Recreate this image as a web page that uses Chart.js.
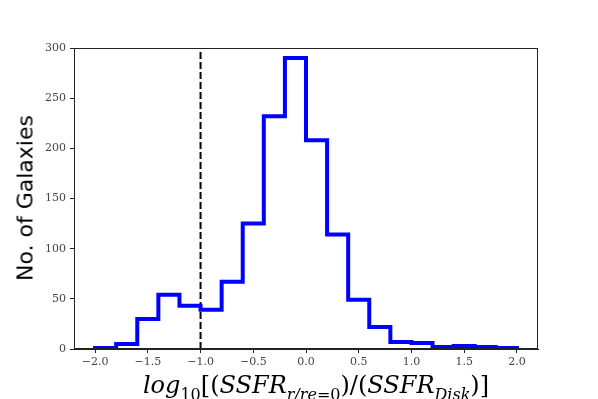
<!DOCTYPE html>
<html>
<head>
<meta charset="utf-8">
<script src="https://cdn.jsdelivr.net/npm/chart.js@4"></script>
<style>
  html, body { margin: 0; padding: 0; background: #fff; overflow: hidden; }
  #wrap { position: relative; width: 598px; height: 399px; }
  #ylabel {
    position: absolute; left: 25px; top: 198px;
    transform: translate(-50%, -50%) rotate(-90deg);
    font-family: "DejaVu Sans", sans-serif; font-size: 22px; white-space: nowrap; color: #000;
  }
  #xlabel {
    position: absolute; left: 316px; top: 368px;
    transform: translateX(-50%);
    font-family: "DejaVu Serif", serif; font-size: 24px; white-space: nowrap; color: #000;
    line-height: 34px;
  }
  #xlabel sub { font-size: 16px; vertical-align: -7px; line-height: 0; }
</style>
</head>
<body>
<div id="wrap">
  <canvas id="histChart" width="598" height="399"></canvas>
  <div id="ylabel">No. of Galaxies</div>
  <div id="xlabel"><i>log</i><sub>10</sub>[(<i>SSFR</i><sub><i>r/re</i>=0</sub>)/(<i>SSFR</i><sub><i>Disk</i></sub>)]</div>
</div>
<script>
// bordes de los bins y cuentas del histograma
const binEdges = [-2.0, -1.8, -1.6, -1.4, -1.2, -1.0, -0.8, -0.6, -0.4, -0.2, 0.0,
                  0.2, 0.4, 0.6, 0.8, 1.0, 1.2, 1.4, 1.6, 1.8, 2.0];
const counts = [1, 5, 30, 54, 43, 39, 67, 125, 232, 290, 208, 114, 49, 22, 7, 6, 2, 3, 2, 1];
const xTickValues = [-2.0, -1.5, -1.0, -0.5, 0.0, 0.5, 1.0, 1.5, 2.0];
const yTickValues = [0, 50, 100, 150, 200, 250, 300];
const cutValue = -1.0;

function fmtMinus(v, d) {
    const s = v.toFixed(d);
    return s.replace('-', '\u2212');
}

// contorno tipo "step": cada bin va de binEdges[i] a binEdges[i+1]
const stepPoints = [{ x: binEdges[0], y: 0 }];
counts.forEach((c, i) => {
    stepPoints.push({ x: binEdges[i], y: c });
    stepPoints.push({ x: binEdges[i + 1], y: c });
});
stepPoints.push({ x: binEdges[binEdges.length - 1], y: 0 });

const framePlugin = {
    id: 'frame',
    afterDraw(chart) {
        const a = chart.chartArea;
        const ctx = chart.ctx;
        ctx.save();
        ctx.strokeStyle = '#222';
        ctx.lineWidth = 1;
        ctx.strokeRect(a.left + 0.5, a.top + 0.5, a.right - a.left - 1, a.bottom - a.top - 1);
        ctx.restore();
    }
};

const ctx = document.getElementById('histChart').getContext('2d');
new Chart(ctx, {
    type: 'line',
    data: {
        datasets: [{
            data: stepPoints,
            borderColor: '#0000ff',
            borderWidth: 4,
            borderJoinStyle: 'miter',
            pointRadius: 0,
            tension: 0,
            fill: false
        }, {
            data: [{ x: cutValue, y: 0 }, { x: cutValue, y: 300 }],
            borderColor: '#000',
            borderWidth: 2,
            borderDash: [7, 3],
            pointRadius: 0,
            fill: false
        }]
    },
    options: {
        responsive: false,
        animation: false,
        layout: { padding: { left: 0, top: 48, right: 60, bottom: 0 } },
        plugins: { legend: { display: false }, tooltip: { enabled: false } },
        scales: {
            x: {
                type: 'linear',
                min: -2.2,
                max: 2.2,
                afterBuildTicks: s => { s.ticks = xTickValues.map(v => ({ value: v })); },
                afterFit: s => { s.height = 50; },
                grid: { drawOnChartArea: false, drawTicks: true, tickLength: 4, color: '#222' },
                border: { color: '#222', width: 1 },
                ticks: {
                    callback: v => fmtMinus(v, 1),
                    color: '#444',
                    padding: 3,
                    maxRotation: 0,
                    font: { family: 'DejaVu Serif', size: 11 }
                }
            },
            y: {
                min: 0,
                max: 300,
                afterBuildTicks: s => { s.ticks = yTickValues.map(v => ({ value: v })); },
                afterFit: s => { s.width = 74; },
                grid: { drawOnChartArea: false, drawTicks: true, tickLength: 4, color: '#222' },
                border: { color: '#222', width: 1 },
                ticks: {
                    color: '#444',
                    padding: 4,
                    font: { family: 'DejaVu Serif', size: 11 }
                }
            }
        }
    },
    plugins: [framePlugin]
});
</script>
</body>
</html>
